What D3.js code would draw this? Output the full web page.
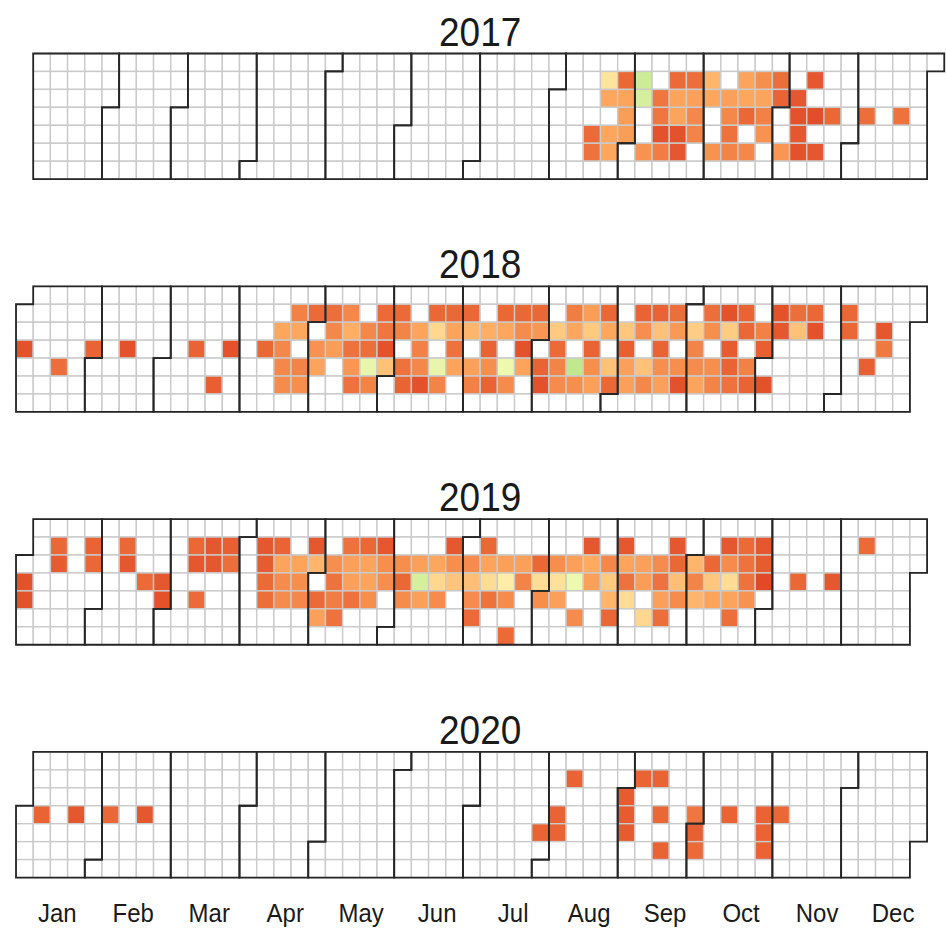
<!DOCTYPE html>
<html>
<head>
<meta charset="utf-8">
<script src="https://cdn.jsdelivr.net/npm/d3@7"></script>
<style>
  body { margin: 0; background: #fff; }
  svg text { font-family: "Liberation Sans", Arial, sans-serif; fill: #1a1a1a; }
</style>
</head>
<body>
<svg id="chart" width="946" height="930"></svg>
<script>
var years = [2017, 2018, 2019, 2020];
var monthLabels = ["Jan","Feb","Mar","Apr","May","Jun","Jul","Aug","Sep","Oct","Nov","Dec"];
// month label positions on the week axis
var monthTicks = [2.9, 7.32, 11.74, 16.16, 20.58, 25, 29.42, 33.84, 38.26, 42.68, 47.1, 51.52];

// [month-day, value] per year
var data2017 = [
  ["08-17",16],["08-18",18],["08-21",55],["08-22",33],["08-24",33],["08-25",33],
  ["08-28",15],["08-29",32],["08-30",30],["08-31",30],
  ["09-04",85],["09-05",82],["09-08",27],
  ["09-12",19],["09-13",19],["09-14",10],["09-15",21],
  ["09-18",16],["09-19",32],["09-20",32],["09-21",10],["09-22",11],
  ["09-25",17],["09-26",31],["09-27",24],["09-28",23],
  ["10-02",38],["10-03",33],["10-06",27],
  ["10-10",31],["10-11",24],["10-12",18],["10-13",23],
  ["10-16",32],["10-17",33],["10-18",15],["10-20",24],
  ["10-23",26],["10-24",32],["10-25",22],["10-26",27],
  ["10-30",17],["10-31",14],["11-03",28],
  ["11-07",11],["11-08",10],["11-09",11],["11-10",10],
  ["11-13",11],["11-15",9],["11-17",11],
  ["11-22",15],["12-06",17],["12-20",18]
];

var data2018 = [
  ["01-03",10],["01-18",17],["01-31",14],["02-14",10],["03-14",14],["03-23",13],["03-28",10],
  ["04-11",15],
  ["04-17",33],["04-18",24],["04-19",24],["04-20",25],
  ["04-23",22],["04-24",33],["04-26",23],["04-27",26],
  ["04-30",16],["05-02",27],["05-03",32],
  ["05-07",17],["05-08",24],["05-09",30],
  ["05-14",24],["05-15",35],["05-16",18],["05-17",28],["05-18",18],
  ["05-22",24],["05-23",17],["05-24",75],["05-25",23],
  ["05-28",16],["05-29",19],["05-30",10],["05-31",42],
  ["06-04",16],["06-05",23],["06-07",18],["06-08",14],
  ["06-12",32],["06-13",22],["06-14",24],["06-15",10],
  ["06-18",15],["06-19",50],["06-21",75],["06-22",23],
  ["06-25",15],["06-26",32],["06-27",18],["06-28",32],
  ["07-02",15],["07-03",38],["07-05",31],["07-06",22],
  ["07-10",35],["07-11",14],["07-12",26],["07-13",14],
  ["07-16",15],["07-17",33],["07-19",72],["07-20",25],
  ["07-23",15],["07-24",25],["07-25",10],["07-26",32],
  ["07-30",15],["07-31",28],["08-02",14],["08-03",10],
  ["08-07",45],["08-08",16],["08-09",23],["08-10",25],
  ["08-13",21],["08-14",33],["08-16",90],["08-17",26],
  ["08-20",30],["08-21",45],["08-22",14],["08-23",26],["08-24",31],
  ["08-27",15],["08-28",33],["08-30",42],["08-31",15],
  ["09-04",44],["09-05",13],["09-06",31],["09-07",31],
  ["09-10",14],["09-11",26],["09-13",42],["09-14",24],
  ["09-17",14],["09-18",42],["09-19",14],["09-20",26],["09-21",31],
  ["09-24",17],["09-25",29],["09-27",26],["09-28",10],
  ["10-02",46],["10-03",23],["10-04",25],["10-05",32],
  ["10-08",17],["10-09",26],["10-11",26],["10-12",23],
  ["10-15",10],["10-16",46],["10-17",12],["10-18",14],["10-19",18],
  ["10-22",14],["10-23",15],["10-25",22],["10-26",14],
  ["10-30",22],["10-31",13],["11-02",10],
  ["11-05",10],["11-06",11],["11-12",17],["11-13",42],["11-19",15],["11-20",10],
  ["12-03",15],["12-04",15],["12-13",13],["12-18",11],["12-19",20]
];

var data2019 = [
  ["01-02",10],["01-03",10],["01-14",15],["01-15",12],["01-28",14],["01-29",15],
  ["02-11",15],["02-12",11],["02-20",16],["02-27",11],["02-28",10],
  ["03-11",15],["03-12",11],["03-14",16],["03-18",11],["03-19",11],["03-25",13],["03-26",17],
  ["04-08",11],["04-09",12],["04-10",16],["04-11",17],
  ["04-15",14],["04-16",32],["04-17",25],["04-18",25],
  ["04-23",32],["04-24",26],["04-25",24],
  ["04-29",11],["04-30",38],["05-02",16],["05-03",31],
  ["05-07",26],["05-08",18],["05-09",21],["05-10",18],
  ["05-13",18],["05-14",31],["05-15",31],["05-16",18],
  ["05-20",15],["05-21",32],["05-22",32],["05-23",26],
  ["05-27",11],["05-28",26],["05-29",26],
  ["06-04",26],["06-05",15],["06-06",25],
  ["06-11",31],["06-12",82],["06-13",31],
  ["06-18",33],["06-19",50],["06-20",25],
  ["06-24",11],["06-25",26],["06-26",43],
  ["07-02",25],["07-03",41],["07-04",25],["07-05",16],
  ["07-08",15],["07-09",32],["07-10",52],["07-11",18],
  ["07-16",31],["07-17",58],["07-18",25],["07-20",16],
  ["07-23",31],["07-24",23],
  ["07-30",15],["07-31",52],["08-01",26],
  ["08-06",26],["08-07",54],["08-08",31],
  ["08-13",31],["08-14",72],["08-16",25],
  ["08-19",11],["08-20",34],["08-21",31],
  ["08-27",24],["08-28",45],["08-29",38],["08-30",15],
  ["09-02",11],["09-03",32],["09-04",18],["09-05",52],
  ["09-10",31],["09-11",30],["09-13",50],
  ["09-17",25],["09-18",18],["09-19",31],["09-20",17],
  ["09-23",11],["09-24",15],["09-25",41],["09-26",25],
  ["10-01",38],["10-02",23],["10-03",38],
  ["10-08",15],["10-09",44],["10-10",32],
  ["10-14",11],["10-15",25],["10-16",52],["10-17",32],["10-18",17],
  ["10-21",16],["10-22",18],["10-23",18],["10-24",27],
  ["10-28",11],["10-29",12],["10-30",8],
  ["11-13",15],["11-27",11],["12-09",16]
];

var data2020 = [
  ["01-08",14],["01-22",11],["02-05",15],["02-19",11],
  ["07-30",14],["08-05",14],["08-06",14],["08-10",14],
  ["09-01",12],["09-02",12],["09-03",12],["09-07",14],
  ["09-14",14],["09-16",15],["09-18",14],
  ["09-30",19],["10-01",13],["10-02",16],
  ["10-14",14],["10-28",14],["10-29",14],["10-30",14],["11-04",15]
];

var yearData = {2017: data2017, 2018: data2018, 2019: data2019, 2020: data2020};

// red to green ramp
var r2g = ["#D61818", "#FFAE63", "#FFFFBD", "#B5E384"];
var color = d3.scaleLinear().domain([0, 35, 65, 95]).range(r2g)
  .interpolate(d3.interpolateLab).clamp(true);

var svg = d3.select("#chart");
var x = d3.scaleLinear().domain([0.4, 54.6]).range([14.3, 946]);
var cellH = 17.95;
var fmtU = d3.timeFormat("%U");
var fmtKey = d3.timeFormat("%m-%d");

function woty(d) { return +fmtU(d) + 1; }

years.forEach(function(year, i) {
  var top = 53.5 + i * 232.8;
  var y = d3.scaleLinear().domain([-0.5, 6.5]).range([top, top + 7 * cellH]);
  var values = new Map(yearData[year]);
  var g = svg.append("g");

  g.append("text")
    .attr("transform", "translate(" + ((x(0.4) + x(54.6)) / 2) + "," + (top - 8) + ") scale(1,1.1)")
    .attr("text-anchor", "middle")
    .style("font-size", "37px")
    .text(year);

  var days = d3.timeDay.range(new Date(year, 0, 1), new Date(year + 1, 0, 1));
  g.selectAll("rect.day")
    .data(days)
    .join("rect")
    .attr("class", "day")
    .attr("x", function(d) { return x(woty(d) - 0.5); })
    .attr("y", function(d) { return y(d.getDay() - 0.5); })
    .attr("width", x(1) - x(0))
    .attr("height", y(1) - y(0))
    .attr("fill", function(d) {
      var v = values.get(fmtKey(d));
      return v === undefined ? "#ffffff" : color(v);
    })
    .attr("stroke", "#cacaca")
    .attr("stroke-width", 1.4);

  var line = d3.line()
    .x(function(p) { return x(p[0]); })
    .y(function(p) { return y(p[1]); });

  d3.range(12).forEach(function(m) {
    var first = new Date(year, m, 1), last = new Date(year, m + 1, 0);
    var wf = woty(first), rf = first.getDay();
    var wl = woty(last), rl = last.getDay();
    var pts = [
      [wf - 0.5, rf - 0.5], [wf + 0.5, rf - 0.5], [wf + 0.5, -0.5],
      [wl + 0.5, -0.5], [wl + 0.5, rl + 0.5], [wl - 0.5, rl + 0.5],
      [wl - 0.5, 6.5], [wf - 0.5, 6.5]
    ];
    g.append("path")
      .attr("d", line(pts) + "Z")
      .attr("fill", "none")
      .attr("stroke", "#262626")
      .attr("stroke-width", 1.8);
  });
});

svg.append("g").selectAll("text")
  .data(monthLabels)
  .join("text")
  .attr("transform", function(d, i) { return "translate(" + x(monthTicks[i]) + ",922) scale(1,1.1)"; })
  .attr("text-anchor", "middle")
  .style("font-size", "24px")
  .text(function(d) { return d; });
</script>
</body>
</html>
